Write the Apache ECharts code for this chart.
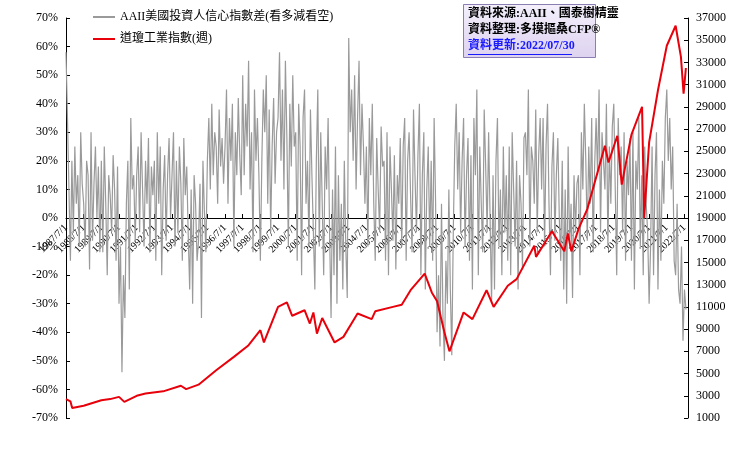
<!DOCTYPE html>
<html lang="zh-Hant">
<head>
<meta charset="UTF-8">
<style>
    * { padding: 0; margin: 0; }
    html, body { width: 100%; height: 100%; background: #fff; }
    #chart { width: 740px; height: 455px; }
</style>
</head>
<body>
<div id="chart"></div>
<script src="https://cdn.jsdelivr.net/npm/echarts@6/dist/echarts.min.js"></script>
<script>
    // AAII 多空差 (%)，從 1987.5 起每月一筆（估讀）
    const spreadStart = 1987.5;
    const spreadVals = [
        58, 35, 10, -15, 20, -5, 25, 5, 15, -10, 30, 12,
        5, -10, 20, 15, -18, 30, -8, 12, 25, 0, 18, -12,
        20, -12, 25, 5, -20, 15, 8, -5, 22, 10, -15, 18,
        -30, -10, -54, -20, -35, 5, 20, -25, 35, 10, 15, -8,
        15, 25, -5, 30, 10, -10, 20, 5, 28, -12, 18, 8,
        20, -15, 30, 5, 25, -20, 10, 22, -8, 15, 28, 0,
        15, 30, -10, 20, -5, 25, 12, -15, 28, 8, 18, -6,
        -25, 10, -30, 15, 5, -15, -8, 12, -35, 20, 2, -12,
        20, 35, 10, 40, 15, 30, 25, 5, 38, 18, 28, 12,
        25, 45, 5, 35, 20, 40, -10, 30, 15, 42, 22, 8,
        50, 15, 40, 25, 55, 10, 30, -12, 45, 20, 35, 15,
        -15, 20, 45, 30, 50, 5, 38, -5, 25, 42, 12, 30,
        35, 58, 20, 45, 10, 55, 28, -10, 40, 18, 50, 25,
        30, -15, 40, 25, -20, 35, 45, 5, 20, -10, 38, 15,
        15, -25, 20, 45, -10, 30, 5, -20, 25, 10, 35, -5,
        -35, 10, -20, 25, -30, 15, -15, 5, -25, 20, -10, -28,
        63, 30, 45, 20, 50, 10, 35, 55, 15, 40, 25, 5,
        25, -10, 35, 15, 40, 5, -15, 28, 10, -5, 32, 18,
        20, -15, 30, -20, 25, 10, -8, 22, -18, 15, 5, 28,
        -10, 25, 35, -15, 20, 30, 8, -12, 38, 15, -5, 22,
        40, -20, 15, 30, -25, 10, 25, -10, 20, -15, 35, 5,
        -40, -20, -45, 5, -35, -50, -15, -30, 10, -25, -48, -5,
        25, 40, 10, 30, -5, 20, 35, -10, 15, 28, -15, 22,
        -25, 35, 15, 45, -20, 25, 5, -12, 38, 18, -5, 30,
        30, -30, 15, -25, 20, 35, -10, 10, -20, 25, -5, 15,
        -15, 25, -20, 30, 10, -10, 20, -25, 15, 5, -18, 28,
        30, 15, 45, -10, 25, 20, 5, 38, -5, 22, 35, 10,
        35, -10, 25, 40, 5, -20, 18, 30, -8, 15, 28, 0,
        -15, 20, -25, 10, -30, 25, -10, 5, -28, 15, -5, 12,
        15, -20, 30, 10, 40, 20, -8, 25, 5, 35, -12, 18,
        35, 15, 45, -5, 30, 20, 10, 40, -10, 25, 5, 32,
        40, 10, -20, 35, 15, 25, -5, 30, -15, 20, 8, 28,
        -15, 30, -25, 20, 10, 35, -10, 15, -20, 25, 5, -5,
        -30, -10, 25, -20, 15, 30, -25, 10, -15, 20, 5, 35,
        45, 20, 35, 10, 25, -15, -20, 5, -25, -30, -10, -43,
        -25, -32
    ];

    // 道瓊工業指數（估讀）
    const dowYears = [1987.5, 1987.75, 1987.85, 1988.5, 1989.5, 1990.0, 1990.5, 1990.8, 1991.5, 1992.0, 1993.0, 1994.0,
        1994.3, 1995.0, 1996.0, 1997.0, 1997.8,
        1998.5, 1998.7, 1999.5, 2000.0, 2000.3, 2001.0, 2001.3, 2001.5, 2001.7, 2002.0, 2002.7, 2003.2,
        2004.0, 2004.8, 2005.0, 2006.0, 2006.5, 2007.0, 2007.8, 2008.2, 2008.5, 2008.9, 2009.2, 2010.0,
        2010.5, 2011.3, 2011.7, 2012.5, 2013.0, 2014.0, 2014.1, 2015.0, 2015.7, 2015.9, 2016.1, 2016.5,
        2017.0, 2018.0, 2018.2, 2018.7, 2018.95, 2019.5, 2020.1, 2020.22, 2020.5, 2021.0,
        2021.5, 2022.0, 2022.3, 2022.45, 2022.58];
    const dowVals = [2700, 2500, 1900, 2100, 2600, 2700, 2900, 2450, 3000, 3200, 3400, 3900,
        3600, 4000, 5300, 6500, 7500,
        8900, 7800, 11000, 11400, 10200, 10700, 9500, 10500, 8600, 10000, 7800, 8300,
        10400, 9900, 10600, 11000, 11200, 12500, 14000, 12300, 11500, 8800, 7000, 10500,
        9900, 12500, 11000, 12900, 13500, 16500, 15500, 17800, 16000, 17600, 16000, 18000,
        19800, 25500, 24000, 26400, 22000, 26500, 29000, 19000, 25800, 30500,
        34500, 36300, 33500, 30200, 32500];

    const spreadData = spreadVals.map((v, i) => [spreadStart + i / 12, v]);
    const dowData = dowYears.map((y, i) => [y, dowVals[i]]);

    const font = '"Liberation Serif", "Noto Sans CJK TC", serif';
    const chart = echarts.init(document.getElementById('chart'));
    chart.setOption({
        animation: false,
        textStyle: { fontFamily: font },
        grid: { left: 66, right: 52, top: 18, bottom: 37 },
        legend: {
            left: 88, top: 6, orient: 'vertical', itemGap: 10,
            itemWidth: 22, itemHeight: 2,
            textStyle: { fontSize: 12, color: '#000', fontFamily: font },
            data: [
                { name: 'AAII美國投資人信心指數差(看多減看空)', icon: 'rect' },
                { name: '道瓊工業指數(週)', icon: 'rect' }
            ]
        },
        xAxis: {
            type: 'value', min: 1987.5, max: 2022.7, interval: 1,
            offset: -200,
            axisLine: { onZero: false, lineStyle: { color: '#000' } },
            axisTick: { show: true, inside: true, length: 4, lineStyle: { color: '#000' } },
            splitLine: { show: false },
            axisLabel: {
                rotate: 45, fontSize: 10, color: '#000', fontFamily: font,
                showMaxLabel: false,
                formatter: v => Math.floor(v) + '/7/1'
            }
        },
        yAxis: [
            {
                type: 'value', min: -70, max: 70, interval: 10,
                axisLine: { show: true, lineStyle: { color: '#000' } },
                axisTick: { show: true, inside: true, length: 4 },
                splitLine: { show: false },
                axisLabel: { color: '#000', fontSize: 12, fontFamily: font, formatter: '{value}%' }
            },
            {
                type: 'value', min: 1000, max: 37000, interval: 2000,
                axisLine: { show: true, lineStyle: { color: '#000' } },
                axisTick: { show: true, inside: true, length: 4 },
                splitLine: { show: false },
                axisLabel: { color: '#000', fontSize: 12, fontFamily: font, formatter: v => String(v) }
            }
        ],
        series: [
            {
                name: 'AAII美國投資人信心指數差(看多減看空)', type: 'line', yAxisIndex: 0,
                data: spreadData, showSymbol: false, color: '#9a9a9a',
                lineStyle: { width: 1.2, color: '#9a9a9a' }
            },
            {
                name: '道瓊工業指數(週)', type: 'line', yAxisIndex: 1,
                data: dowData, showSymbol: false, color: '#e8000b',
                lineStyle: { width: 2, color: '#e8000b' }
            }
        ],
        graphic: [
            {
                type: 'rect', left: 463, top: 4,
                shape: { width: 132, height: 53 },
                style: {
                    fill: new echarts.graphic.LinearGradient(0, 0, 0, 1, [
                        { offset: 0, color: '#f4f0fb' }, { offset: 1, color: '#ddd2f0' }
                    ]),
                    stroke: '#8a7fb0', lineWidth: 1
                }
            },
            { type: 'text', left: 468, top: 8, style: { text: '資料來源:AAII、國泰樹精靈', fill: '#000', font: 'bold 12px ' + font } },
            { type: 'text', left: 468, top: 24, style: { text: '資料整理:多摸摳桑CFP®', fill: '#000', font: 'bold 12px ' + font } },
            { type: 'text', left: 468, top: 40, style: { text: '資料更新:2022/07/30', fill: '#1a1aff', font: 'bold 12px ' + font } },
            { type: 'rect', left: 468, top: 54, shape: { width: 104, height: 1 }, style: { fill: '#1a1aff' } }
        ]
    });
</script>
</body>
</html>
